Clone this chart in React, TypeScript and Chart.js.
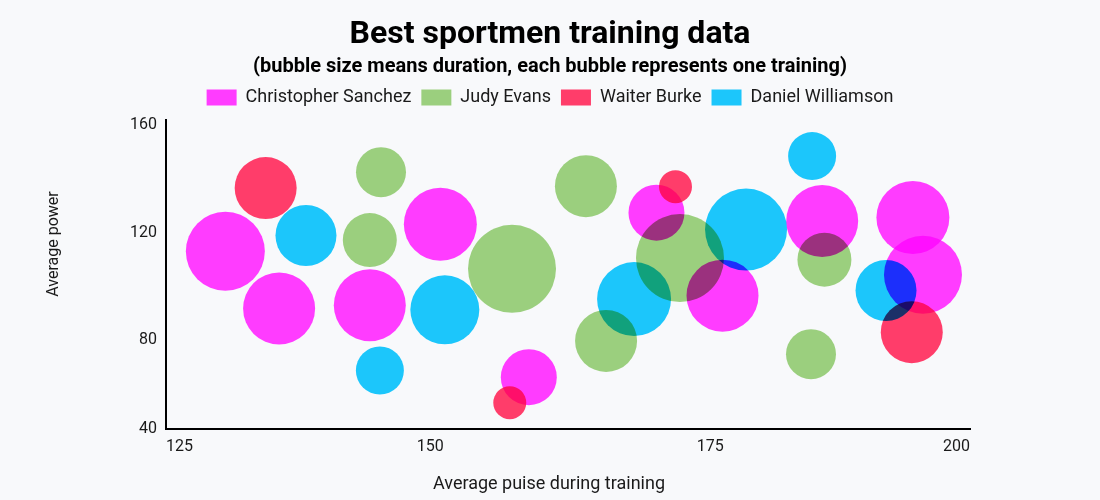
import React, { useEffect, useRef } from "react";
import { Chart, registerables } from "chart.js";

Chart.register(...registerables);

const chartTitle = "Best sportmen training data";
const chartSubtitle = "(bubble size means duration, each bubble represents one training)";
const xAxisTitle = "Average puise during training";
const yAxisTitle = "Average power";

const seriesNames = ["Christopher Sanchez", "Judy Evans", "Waiter Burke", "Daniel Williamson"];
const seriesColors = ["#ff3cff", "#9bcf7e", "#ff3d6a", "#1cc6fb"];

// Christopher Sanchez
const christopherPulse = [131.7, 136.5, 144.6, 150.9, 170.2, 158.8, 176.1, 185.0, 193.1, 194.0];
const christopherPower = [113.1, 91.8, 93.0, 123.2, 127.5, 66.2, 96.6, 124.4, 125.7, 104.4];
const christopherDuration = [39.5, 36, 36, 36.5, 28, 28, 36, 36, 36.5, 39];

// Judy Evans
const judyPulse = [145.6, 144.6, 157.3, 163.9, 172.3, 165.7, 185.2, 184.0];
const judyPower = [142.6, 117.3, 106.6, 137.4, 110.6, 79.7, 110.0, 74.8];
const judyDuration = [25, 27, 44, 31, 44, 31, 27, 25];

// Waiter Burke
const waiterPulse = [135.3, 171.9, 157.1, 193.0];
const waiterPower = [136.7, 137.2, 56.7, 83.0];
const waiterDuration = [31, 16.5, 16.5, 31];

// Daniel Williamson
const danielPulse = [138.9, 145.5, 151.3, 168.2, 178.2, 184.1, 190.7];
const danielPower = [119.0, 68.7, 91.3, 95.3, 121.2, 148.6, 98.5];
const danielDuration = [30.5, 24, 34.5, 37, 41, 24, 30.5];

const xTicks = [125, 150, 175, 200];
const yTicks = [40, 80, 120, 160];
const xRange = [126.4, 198.2];
const yRange = [46.9, 161.9];

const seriesPulse = [christopherPulse, judyPulse, waiterPulse, danielPulse];
const seriesPower = [christopherPower, judyPower, waiterPower, danielPower];
const seriesDuration = [christopherDuration, judyDuration, waiterDuration, danielDuration];

const FONT = "Roboto";
const TEXT = "#1a1a1a";

const multiplyPlugin = {
  id: "multiplyBlend",
  beforeDatasetsDraw(chart: any) {
    chart.ctx.save();
    chart.ctx.globalCompositeOperation = "multiply";
  },
  afterDatasetsDraw(chart: any) {
    chart.ctx.restore();
  },
};

const legendSpacer = {
  id: "legendSpacer",
  beforeLayout(chart: any) {
    const lg = chart.legend;
    if (lg && !lg.__spaced) {
      const fit = lg.fit;
      lg.fit = function () {
        fit.call(this);
        this.height += 4;
      };
      lg.__spaced = true;
    }
  },
};

const axisTitlePlugin = {
  id: "axisTitles",
  afterDraw(chart: any) {
    const ctx = chart.ctx;
    ctx.save();
    ctx.fillStyle = TEXT;
    ctx.textAlign = "center";
    ctx.textBaseline = "middle";
    ctx.font = `18px ${FONT}`;
    ctx.fillText(xAxisTitle, 549, chart.height - 16);
    ctx.font = `16px ${FONT}`;
    ctx.translate(54, 244);
    ctx.rotate(-Math.PI / 2);
    ctx.fillText(yAxisTitle, 0, 0);
    ctx.restore();
  },
};

export default function App() {
  const canvasRef = useRef<HTMLCanvasElement | null>(null);

  useEffect(() => {
    if (!canvasRef.current) return;
    const datasets = seriesNames.map((name, s) => ({
      label: name,
      data: seriesPulse[s].map((x, i) => ({ x, y: seriesPower[s][i], r: seriesDuration[s][i] })),
      backgroundColor: seriesColors[s],
      borderWidth: 0,
      hoverRadius: 0,
      xAxisID: "x",
      yAxisID: "y",
    }));

    const chart = new Chart(canvasRef.current, {
      type: "bubble",
      data: { datasets },
      plugins: [legendSpacer, multiplyPlugin, axisTitlePlugin],
      options: {
        animation: false,
        responsive: true,
        maintainAspectRatio: false,
        layout: { padding: 0 },
        plugins: {
          tooltip: { enabled: false },
          title: {
            display: true,
            text: chartTitle,
            color: "#000",
            font: { family: FONT, size: 32, weight: "bold" },
            padding: { top: 16, bottom: 1 },
          },
          subtitle: {
            display: true,
            text: chartSubtitle,
            color: "#000",
            font: { family: FONT, size: 20, weight: "bold", lineHeight: 1.1 },
            padding: { top: 1, bottom: 0 },
          },
          legend: {
            display: true,
            position: "top",
            labels: {
              boxWidth: 30,
              boxHeight: 16,
              padding: 10,
              color: TEXT,
              font: { family: FONT, size: 18 },
            },
          },
        },
        scales: {
          x: {
            type: "linear",
            position: "bottom",
            min: xRange[0],
            max: xRange[1],
            grid: { display: false, drawTicks: false },
            border: { display: true, color: "#000", width: 2 },
            afterBuildTicks: (s: any) => {
              s.ticks = xTicks.map((v) => ({ value: Math.min(Math.max(v, s.min), s.max) }));
            },
            afterFit: (s: any) => {
              s.height = 71;
            },
            ticks: {
              align: "inner",
              padding: 8,
              color: TEXT,
              font: { family: FONT, size: 16 },
              callback: (_v: any, i: number) => String(xTicks[i]),
            },
          },
          y: {
            type: "linear",
            position: "left",
            min: yRange[0],
            max: yRange[1],
            grid: { display: false, drawTicks: false },
            border: { display: true, color: "#000", width: 2 },
            afterBuildTicks: (s: any) => {
              s.ticks = yTicks.map((v) => ({ value: Math.min(Math.max(v, s.min), s.max) }));
            },
            afterFit: (s: any) => {
              s.width = 166;
            },
            ticks: {
              padding: 9,
              color: TEXT,
              font: { family: FONT, size: 16 },
              callback: (_v: any, i: number) => String(yTicks[i]),
            },
          },
          yRight: {
            type: "linear",
            position: "right",
            display: true,
            grid: { display: false, drawTicks: false },
            border: { display: false },
            ticks: { display: false },
            afterFit: (s: any) => {
              s.width = 130;
            },
          },
        },
      } as any,
    });
    return () => chart.destroy();
  }, []);

  return (
    <div
      style={{
        position: "fixed",
        left: 0,
        top: 0,
        width: 1100,
        height: 500,
        background: "#f8f9fb",
      }}
    >
      <canvas ref={canvasRef} />
    </div>
  );
}
